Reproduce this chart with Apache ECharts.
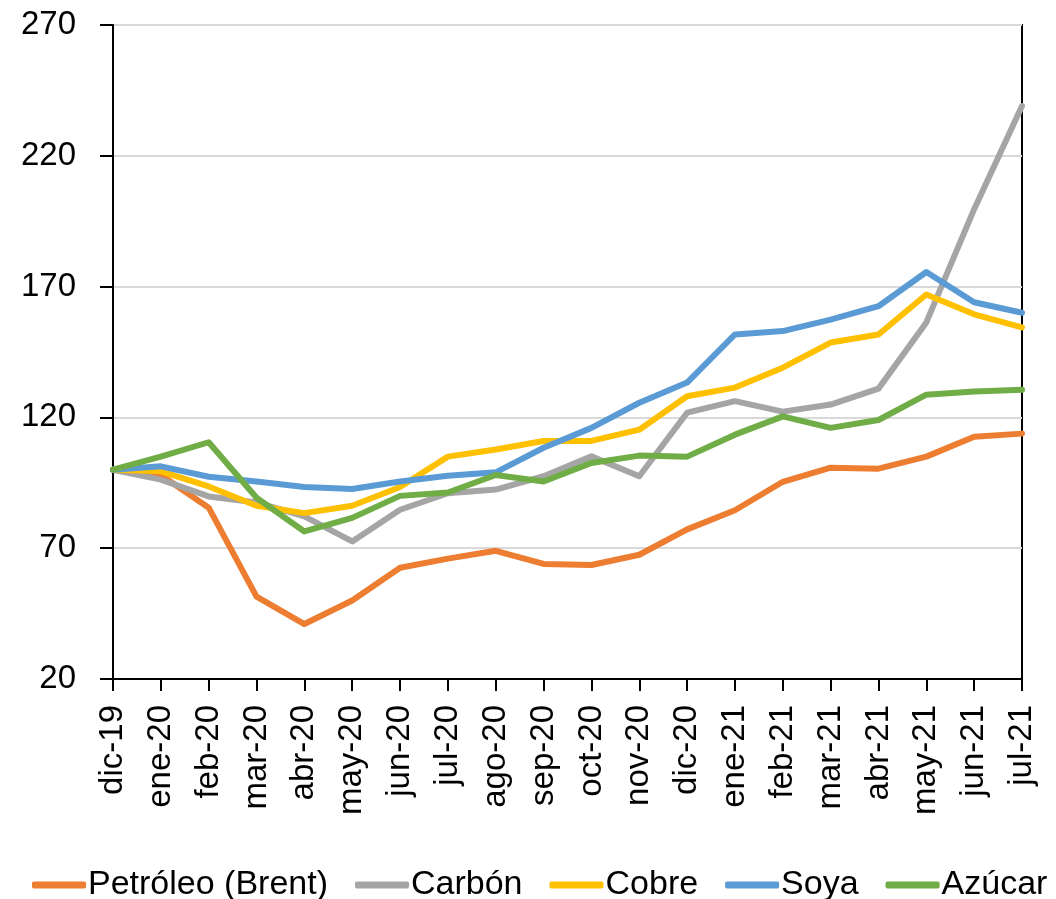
<!DOCTYPE html>
<html>
<head>
<meta charset="utf-8">
<title>Precios de materias primas</title>
<script src="https://cdn.jsdelivr.net/npm/echarts@6/dist/echarts.min.js"></script>
<style>
	html, body {
		margin: 0;
		padding: 0;
		background: #fff;
	}

	#chart {
		width: 1056px;
		height: 899px;
	}
</style>
</head>
<body>
<div id="chart"></div>
<script>
	// meses (eje x)
	var months = ['dic-19', 'ene-20', 'feb-20', 'mar-20', 'abr-20', 'may-20', 'jun-20', 'jul-20', 'ago-20', 'sep-20',
		'oct-20', 'nov-20', 'dic-20', 'ene-21', 'feb-21', 'mar-21', 'abr-21', 'may-21', 'jun-21', 'jul-21']

	// indices, dic-19 = 100
	var petroleo = [100, 98, 85.5, 51.5, 41, 50, 62.5, 66, 69, 64, 63.6, 67.5, 77.2, 84.5, 95.4, 100.8, 100.4, 105, 112.6, 113.8]
	var carbon = [100, 96.2, 89.8, 87.5, 82.2, 72.6, 84.7, 91, 92.4, 97.5, 105.1, 97.5, 121.8, 126.2, 122.2, 124.9, 131, 156.3, 199.6, 239]
	var cobre = [100, 99.4, 93.6, 86.2, 83.4, 86.2, 93.4, 105, 107.7, 111, 111, 115.3, 128.1, 131.4, 139, 148.6, 151.7, 167, 159.4, 154.4]
	var soya = [100, 101.3, 97.3, 95.5, 93.4, 92.6, 95.5, 97.7, 99, 108.4, 116, 125.6, 133.3, 151.7, 153, 157.4, 162.5, 175.6, 164, 160]
	var azucar = [100, 105, 110.5, 89.3, 76.4, 81.6, 90, 91.3, 98, 95.5, 102.6, 105.4, 105, 113.4, 120.4, 116, 119, 128.7, 129.9, 130.6]

	var yTicks = [20, 70, 120, 170, 220, 270]

	var fontFamily = '"Liberation Sans", Arial, sans-serif'

	function makeSeries(name, data, color) {
		return {
			name: name,
			type: 'line',
			data: data,
			symbol: 'none',
			smooth: false,
			lineStyle: {
				color: color,
				width: 6,
				cap: 'round',
				join: 'round'
			},
			itemStyle: {
				color: color
			}
		}
	}

	var chart = echarts.init(document.getElementById('chart'), null, {renderer: 'canvas'})

	var option = {
		animation: false,
		backgroundColor: '#fff',
		textStyle: {
			fontFamily: fontFamily
		},
		grid: {
			left: 113,
			right: 34,
			top: 25,
			bottom: 220,
			show: true,
			borderColor: '#000',
			borderWidth: 2
		},
		legend: {
			top: 863,
			left: 27,
			itemWidth: 54,
			itemHeight: 7,
			itemGap: 27,
			icon: 'roundRect',
			textStyle: {
				fontFamily: fontFamily,
				fontSize: 34,
				color: '#000',
				padding: [0, 0, 0, -3]
			},
			data: ['Petróleo (Brent)', 'Carbón', 'Cobre', 'Soya', 'Azúcar']
		},
		xAxis: {
			type: 'category',
			data: months,
			boundaryGap: false,
			axisLine: {
				lineStyle: {
					color: '#000',
					width: 2
				}
			},
			axisTick: {
				show: true,
				length: 12,
				interval: 0,
				lineStyle: {
					color: '#000',
					width: 2
				}
			},
			axisLabel: {
				interval: 0,
				rotate: 90,
				margin: 26,
				fontFamily: fontFamily,
				fontSize: 33,
				color: '#000'
			},
			splitLine: {
				show: false
			}
		},
		yAxis: {
			type: 'value',
			min: yTicks[0],
			max: yTicks[yTicks.length - 1],
			interval: 50,
			axisLine: {
				show: true,
				lineStyle: {
					color: '#000',
					width: 2
				}
			},
			axisTick: {
				show: true,
				length: 13,
				lineStyle: {
					color: '#000',
					width: 2
				}
			},
			axisLabel: {
				margin: 37,
				fontFamily: fontFamily,
				fontSize: 33,
				color: '#000'
			},
			splitLine: {
				show: true,
				lineStyle: {
					color: '#d9d9d9',
					width: 2
				}
			}
		},
		series: [
			makeSeries('Petróleo (Brent)', petroleo, '#ED7D31'),
			makeSeries('Carbón', carbon, '#A5A5A5'),
			makeSeries('Cobre', cobre, '#FFC000'),
			makeSeries('Soya', soya, '#5B9BD5'),
			makeSeries('Azúcar', azucar, '#70AD47')
		]
	}

	chart.setOption(option)
</script>
</body>
</html>
